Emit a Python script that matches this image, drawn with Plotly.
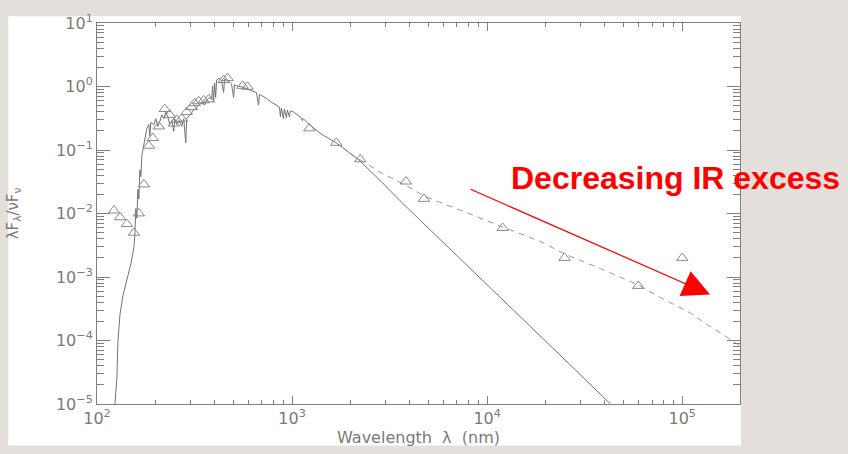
import math
import plotly.graph_objects as go

# ---- data ----
# model photospheric spectrum (solid line): wavelength (nm), lambda F_lambda / nu F_nu
spec_wl = [123.6, 126.5, 128.0, 131.1, 135.8, 142.3, 149.2, 154.6, 156.4, 158.2,
           160.1, 162.0, 163.9, 165.9, 167.8, 169.8, 173.9, 178.0, 180.1, 184.4,
           186.6, 188.8, 195.6, 200.3, 205.0, 209.9, 214.8, 220.0, 225.2, 230.5,
           236.0, 241.6, 247.5, 250.4, 256.3, 265.5, 271.8, 278.3, 285.0, 288.4,
           298.7, 305.8, 316.8, 324.3, 336.0, 344.0, 356.4, 364.9, 378.0, 387.0,
           391.5, 396.1, 400.9, 405.6, 410.4, 425.1, 435.2, 445.7, 451.0, 461.7,
           478.2, 489.5, 501.3, 507.2, 519.3, 550.8, 584.2, 619.4, 657.1, 672.7,
           680.6, 696.8, 739.0, 783.8, 831.3, 861.1, 871.3, 881.6, 902.6, 913.3,
           935.2, 946.3, 968.7, 980.2, 1015, 1052, 1116, 1129, 1142, 1226,
           1331, 1411, 1684, 1786, 1940, 2207, 2860, 3705, 30090, 42820]
spec_f = [1.0e-5, 2.59e-5, 9.48e-5, 2.53e-4, 5.10e-4, 8.63e-4, 1.62e-3, 2.94e-3, 4.64e-3, 1.20e-2,
          8.42e-3, 2.41e-2, 1.70e-2, 4.86e-2, 3.80e-2, 8.22e-2, 0.117, 0.178, 0.219, 0.252,
          0.166, 0.270, 0.252, 0.311, 0.235, 0.280, 0.358, 0.311, 0.398, 0.334,
          0.252, 0.290, 0.197, 0.311, 0.252, 0.290, 0.235, 0.311, 0.130, 0.311,
          0.358, 0.398, 0.442, 0.474, 0.527, 0.565, 0.509, 0.606, 0.673, 0.628,
          1.025, 0.565, 1.138, 0.673, 1.265, 1.357, 1.222, 0.802, 1.309, 1.265,
          1.180, 1.099, 0.673, 1.062, 1.025, 0.989, 0.923, 0.860, 0.802, 0.509,
          0.748, 0.722, 0.650, 0.565, 0.509, 0.474, 0.334, 0.458, 0.311, 0.442,
          0.322, 0.427, 0.334, 0.412, 0.398, 0.371, 0.322, 0.290, 0.311, 0.252,
          0.205, 0.178, 0.1296, 0.1127, 0.0946, 0.0690, 0.0319, 0.01425, 2.88e-5, 1.0e-5]

# model with disk (dashed line)
disk_wl = [1786, 2207, 2860, 3838, 4742, 6290, 8247, 12010, 18780, 24920,
           38060, 59530, 77120, 109800, 138900, 175700, 197700]
disk_f = [0.1127, 0.0714, 0.0437, 0.0277, 0.01886, 0.01329, 0.00969, 0.00614, 0.00363, 0.00230,
          0.00136, 7.50e-4, 4.76e-4, 2.72e-4, 1.66e-4, 1.054e-4, 8.25e-5]

# observed photometry (open triangles)
obs_wl = [122.1, 131.1, 142.3, 154.6, 163.9, 173.9, 184.4, 193.3, 207.4, 222.6,
          236.0, 247.5, 256.3, 271.8, 288.4, 305.8, 316.8, 332.0, 352.3, 373.6,
          445.7, 467.1, 557.2, 591.0, 1226, 1684, 2234, 3838, 4742, 12010,
          24920, 59530, 100000]
obs_f = [0.01115, 0.00872, 0.00682, 0.00498, 0.01003, 0.0287, 0.1167, 0.1545, 0.235, 0.442,
         0.358, 0.261, 0.300, 0.311, 0.398, 0.474, 0.546, 0.585, 0.606, 0.628,
         1.265, 1.357, 1.025, 0.989, 0.219, 0.1296, 0.0714, 0.0319, 0.0170, 0.00593,
         0.00200, 7.24e-4, 0.00200]

x_tickvals = [100, 1000, 10000, 100000]
x_ticktext = ["10<sup>2</sup>", "10<sup>3</sup>", "10<sup>4</sup>", "10<sup>5</sup>"]
y_tickvals = [1e-5, 1e-4, 1e-3, 1e-2, 1e-1, 1, 10]
y_ticktext = ["10<sup>\u22125</sup>", "10<sup>\u22124</sup>", "10<sup>\u22123</sup>",
              "10<sup>\u22122</sup>", "10<sup>\u22121</sup>", "10<sup>0</sup>", "10<sup>1</sup>"]

x_range = [100, 197700]
y_range = [1e-5, 10]

# arrow (annotation) tip and label
arrow_tip = (138900, 5.28e-4)
label_text = "Decreasing IR excess"

# ---- figure ----
fig = go.Figure()
fig.add_trace(go.Scatter(x=spec_wl, y=spec_f, mode="lines",
                         line=dict(color="#737373", width=1), hoverinfo="skip"))
fig.add_trace(go.Scatter(x=disk_wl, y=disk_f, mode="lines",
                         line=dict(color="#9a9a9a", width=1, dash="6px,5px"), hoverinfo="skip"))
fig.add_trace(go.Scatter(x=obs_wl, y=obs_f, mode="markers",
                         marker=dict(symbol="triangle-up-open", size=10,
                                     color="#8a8a8a", line=dict(color="#8a8a8a", width=1)),
                         hoverinfo="skip"))

axcol = "#808080"
tickfont = dict(family="DejaVu Sans", size=16, color="#7a7a7a")

fig.update_xaxes(type="log", range=[math.log10(v) for v in x_range],
                 tickmode="array", tickvals=x_tickvals, ticktext=x_ticktext,
                 ticks="inside", ticklen=8, tickwidth=1, tickcolor=axcol,
                 minor=dict(ticks="inside", ticklen=4, dtick="D1", tickcolor=axcol, showgrid=False),
                 showline=True, linecolor=axcol, linewidth=1, mirror="allticks",
                 showgrid=False, zeroline=False, tickfont=tickfont,
                 title=dict(text="Wavelength\u00a0\u00a0\u03bb\u00a0\u00a0(nm)",
                            font=dict(family="DejaVu Sans", size=16, color="#7a7a7a"),
                            standoff=3))
fig.update_yaxes(type="log", range=[math.log10(v) for v in y_range],
                 tickmode="array", tickvals=y_tickvals, ticktext=y_ticktext,
                 ticks="inside", ticklen=13, tickwidth=1, tickcolor=axcol,
                 minor=dict(ticks="inside", ticklen=7, dtick="D1", tickcolor=axcol, showgrid=False),
                 showline=True, linecolor=axcol, linewidth=1, mirror="allticks",
                 showgrid=False, zeroline=False, tickfont=tickfont,
                 title=dict(text="\u03bbF<sub>\u03bb</sub>/\u03bdF<sub>\u03bd</sub>",
                            font=dict(family="DejaVu Sans", size=15, color="#7a7a7a"),
                            standoff=33))

fig.add_annotation(x=math.log10(arrow_tip[0]), y=math.log10(arrow_tip[1]), xref="x", yref="y",
                   ax=-241, ay=-106, axref="pixel", ayref="pixel", text="",
                   showarrow=True, arrowhead=2, arrowsize=4.2, arrowwidth=1.3,
                   arrowcolor="#ff0000", standoff=0)
fig.add_annotation(x=0.899, y=0.593, xref="paper", yref="paper", text="<b>" + label_text + "</b>",
                   showarrow=False, xanchor="center", yanchor="middle",
                   font=dict(family="Liberation Sans", size=32, color="#ff0000"))

fig.update_layout(width=848, height=454,
                  margin=dict(l=95, r=108, t=13, b=47, pad=0),
                  paper_bgcolor="#e3e0dc", plot_bgcolor="white", showlegend=False,
                  shapes=[dict(type="rect", xref="paper", yref="paper",
                               x0=-0.138, x1=1.0016, y0=-0.1091, y1=1.0178,
                               fillcolor="white", line=dict(width=0), layer="below")])

fig.write_html("out.html")
